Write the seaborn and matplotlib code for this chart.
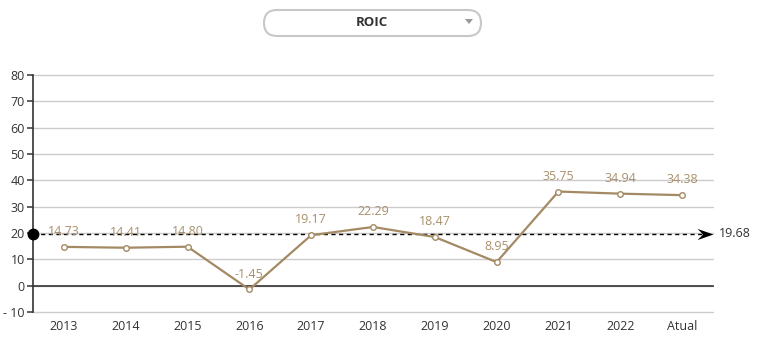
import numpy as np
import pandas as pd
import matplotlib
matplotlib.use("Agg")
import matplotlib.pyplot as plt
import seaborn as sns
from matplotlib.patches import FancyBboxPatch, Polygon
from matplotlib.path import Path
from matplotlib.ticker import FixedLocator, FixedFormatter

# ROIC history
categories = ["2013", "2014", "2015", "2016", "2017", "2018", "2019", "2020", "2021", "2022", "Atual"]
roic = [14.73, 14.41, 14.80, -1.45, 19.17, 22.29, 18.47, 8.95, 35.75, 34.94, 34.38]
mean_value = 19.68
y_ticks = [-10, 0, 10, 20, 30, 40, 50, 60, 70, 80]
y_tick_labels = ["- 10", "0", "10", "20", "30", "40", "50", "60", "70", "80"]
selector_label = "ROIC"

LINE = "#a48a64"
LABEL = "#a8906c"
TEXT = "#333333"

sns.set_theme(style="white")
plt.rcParams["font.family"] = ["Open Sans", "DejaVu Sans"]

W, H = 757, 344
fig = plt.figure(figsize=(W / 100, H / 100), dpi=100)
ax = fig.add_axes([33 / W, 1 - 312 / H, (713 - 33) / W, (312 - 75) / H])

df = pd.DataFrame({"periodo": categories, "roic": roic})
sns.lineplot(data=df, x="periodo", y="roic", sort=False, ax=ax, color=LINE,
             linewidth=1.6, marker="o", markersize=4.0, markerfacecolor="white",
             markeredgecolor=LINE, markeredgewidth=1.0, zorder=4)

ax.set_xlim(-0.5, len(categories) - 0.5)
ax.set_ylim(-10, 80)
ax.set_xlabel("")
ax.set_ylabel("")

# horizontal grid
ax.yaxis.set_major_locator(FixedLocator(y_ticks))
ax.yaxis.set_major_formatter(FixedFormatter(y_tick_labels))
ax.grid(axis="y", color="#cccccc", linewidth=1.0)
ax.grid(axis="x", visible=False)
for gl in ax.get_ygridlines():
    gl.set_clip_on(False)

# spines: left axis and category axis through zero
for s in ("top", "right"):
    ax.spines[s].set_visible(False)
ax.spines["left"].set_color("#333333")
ax.spines["left"].set_linewidth(1.2)
ax.spines["bottom"].set_position(("data", 0))
ax.spines["bottom"].set_color("#333333")
ax.spines["bottom"].set_linewidth(1.2)

x_idx = np.arange(len(categories))
ax.xaxis.set_major_locator(FixedLocator(x_idx))
ax.xaxis.set_major_formatter(FixedFormatter(categories))
ax.xaxis.set_minor_locator(FixedLocator(x_idx + 0.5))
ax.tick_params(axis="x", which="major", length=0, pad=25, labelsize=9, labelcolor=TEXT)
ax.tick_params(axis="x", which="minor", length=4, width=1.1, color="#333333", direction="out")
ax.tick_params(axis="y", which="major", length=4, width=1.1, color="#333333",
               labelsize=9, labelcolor=TEXT, pad=2, left=True)

# value labels above each point
for i, v in enumerate(roic):
    ax.annotate(f"{v:.2f}", (i, v), xytext=(0, 11), textcoords="offset points",
                ha="center", va="center", fontsize=9, color=LABEL, zorder=5)

# mean line with start dot and arrow head
ax.axhline(mean_value, color="black", linestyle=(0, (3, 2.5)), linewidth=1.0, zorder=3)
ax.plot([-0.5], [mean_value], marker="o", markersize=7.5, color="black",
        clip_on=False, zorder=6)
arrow = Path([(0, 0), (-2.0, 0.7), (-1.3, 0), (-2.0, -0.7), (0, 0)],
             [Path.MOVETO, Path.LINETO, Path.LINETO, Path.LINETO, Path.CLOSEPOLY])
ax.plot([len(categories) - 0.5], [mean_value], marker=arrow, markersize=23,
        color="black", markeredgewidth=0, clip_on=False, zorder=6)
ax.annotate(f"{mean_value:.2f}", (len(categories) - 0.5, mean_value), xytext=(4, 0),
            textcoords="offset points", ha="left", va="center", fontsize=9,
            color=TEXT, annotation_clip=False)

# selector box at the top, drawn on a pixel-scaled overlay
ov = fig.add_axes([0, 0, 1, 1], zorder=10)
ov.set_xlim(0, W)
ov.set_ylim(H, 0)
ov.axis("off")
ov.patch.set_alpha(0)
box = FancyBboxPatch((264, 10), 217, 26, boxstyle="round,pad=0,rounding_size=13",
                     facecolor="white", edgecolor="#c8c8c8", linewidth=1.5)
ov.add_patch(box)
ov.text(372, 23, selector_label, ha="center", va="center",
        fontsize=9.5, fontweight="bold", color=TEXT)
ov.add_patch(Polygon([(465, 19), (473, 19), (469, 24)], closed=True,
                     facecolor="#999999", edgecolor="none"))

fig.savefig("out.png", dpi=100)
